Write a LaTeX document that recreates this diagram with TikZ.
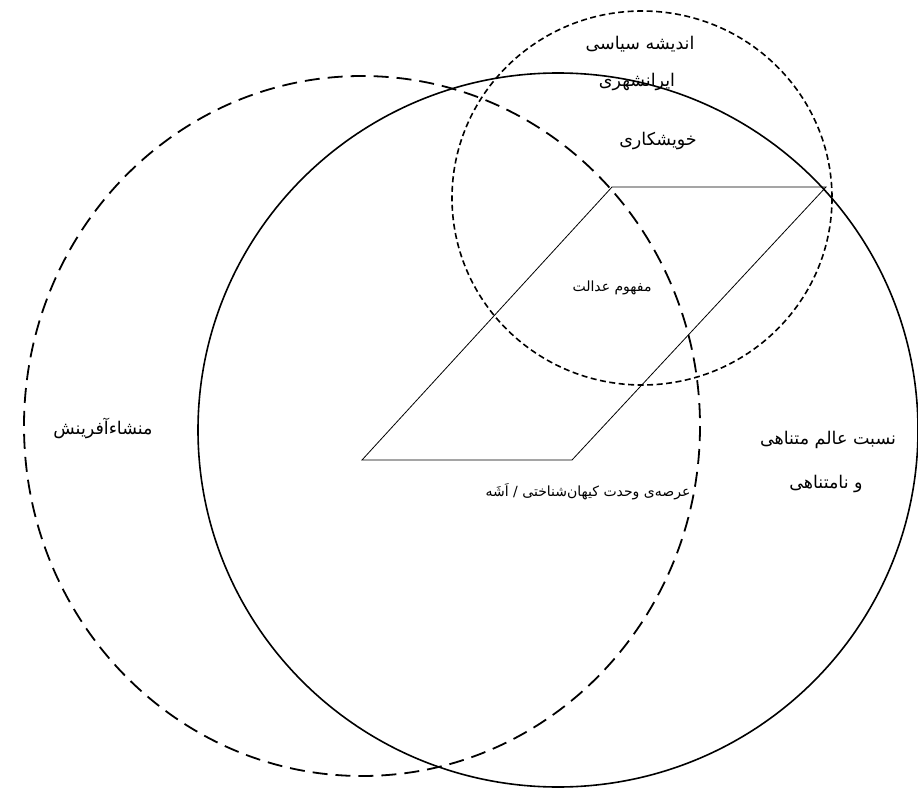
\documentclass[tikz,border=0pt]{standalone}
\usepackage{fontspec}
\newfontfamily\fa[Script=Arabic]{DejaVu Sans}
\TeXXeTstate=1
\begin{document}
\begin{tikzpicture}[x=1pt,y=-1pt,
  lbl/.style={font=\fa\fontsize{17.5}{20}\selectfont, inner sep=0pt},
  smalllbl/.style={font=\fa\fontsize{14}{16}\selectfont, inner sep=0pt},
  longdash/.style={line width=1.8pt, dash pattern=on 15pt off 8pt},
  shortdash/.style={line width=1.6pt, dash pattern=on 6pt off 3.5pt},
  solidring/.style={line width=1.6pt},
  para/.style={line width=0.8pt}]
\useasboundingbox[fill=white] (0,0) rectangle (918,789);
% circles
\draw[longdash] (362,426) ellipse [x radius=338, y radius=350];
\draw[solidring] (558,430) ellipse [x radius=360, y radius=357];
\draw[shortdash] (642,198) ellipse [x radius=190, y radius=187];
% parallelogram
\coordinate (p1) at (612,187);
\coordinate (p2) at (826,187);
\coordinate (p3) at (572,460);
\coordinate (p4) at (362,460);
\draw[para] (p1) -- (p2) -- (p3) -- (p4) -- cycle;
% labels
\node[lbl] (t1) at (640,44) {\beginR اندیشه سیاسی\endR};
\node[lbl] (t2) at (637,82) {\beginR ایرانشهری\endR};
\node[lbl] (t3) at (658,141) {\beginR خویشکاری\endR};
\node[smalllbl] (t4) at (612,288) {\beginR مفهوم عدالت\endR};
\node[lbl] (t5) at (103,428) {\beginR منشاءآفرینش\endR};
\node[lbl] (t6) at (828,440) {\beginR نسبت عالم متناهی\endR};
\node[lbl] (t7) at (826,484) {\beginR و نامتناهی\endR};
\node[smalllbl] (t8) at (588,492) {\beginR عرصه‌ی وحدت کیهان‌شناختی / اَشَه\endR};
\end{tikzpicture}
\end{document}
